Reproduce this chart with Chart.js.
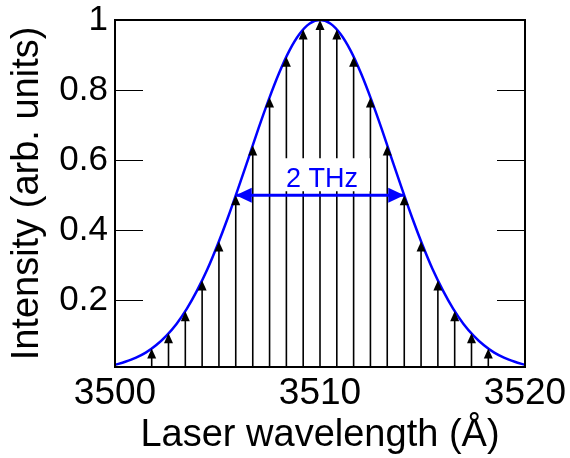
<!DOCTYPE html>
<html>
<head>
<meta charset="utf-8">
<script src="https://cdn.jsdelivr.net/npm/chart.js@4.4.0/dist/chart.umd.min.js"></script>
<style>
  html, body { margin: 0; padding: 0; background: #fff; }
  #wrap { width: 570px; height: 458px; }
</style>
</head>
<body>
<div id="wrap"><canvas id="combChart"></canvas></div>
<script>
// envelope (blue curve), wavelength in Angstrom
var curveX = [3500, 3500.5, 3501, 3501.5, 3502, 3502.5, 3503, 3503.5, 3504, 3504.5,
              3505, 3505.5, 3506, 3506.5, 3507, 3507.5, 3508, 3508.5, 3509, 3509.5,
              3510, 3510.5, 3511, 3511.5, 3512, 3512.5, 3513, 3513.5, 3514, 3514.5,
              3515, 3515.5, 3516, 3516.5, 3517, 3517.5, 3518, 3518.5, 3519, 3519.5, 3520];
var curveY = [0.016, 0.025, 0.036, 0.051, 0.072, 0.099, 0.133, 0.176, 0.228, 0.288,
              0.358, 0.435, 0.518, 0.604, 0.691, 0.773, 0.848, 0.912, 0.960, 0.990,
              1.000, 0.990, 0.960, 0.912, 0.848, 0.773, 0.691, 0.604, 0.518, 0.435,
              0.358, 0.288, 0.228, 0.176, 0.133, 0.099, 0.072, 0.051, 0.036, 0.025, 0.016];

// comb lines (black arrows)
var combX = [3501.79, 3502.61, 3503.43, 3504.25, 3505.07, 3505.89, 3506.72, 3507.54, 3508.36, 3509.18,
             3510.00, 3510.82, 3511.64, 3512.46, 3513.28, 3514.11, 3514.93, 3515.75, 3516.57, 3517.39, 3518.21];
var combY = [0.063, 0.106, 0.169, 0.257, 0.368, 0.500, 0.642, 0.779, 0.895, 0.973,
             1.000, 0.973, 0.895, 0.779, 0.642, 0.500, 0.368, 0.257, 0.169, 0.106, 0.063];

// FWHM marker
var fwhmX = [3505.89, 3514.11];
var fwhmY = [0.5, 0.5];
var fwhmLabel = '2 THz';

var xTicks = [3500, 3510, 3520];
var yTicks = [0.2, 0.4, 0.6, 0.8, 1];

function pairs(xs, ys) {
    return xs.map(function (x, i) { return { x: x, y: ys[i] }; });
}

var FONT = "'Liberation Sans', Arial, Helvetica, sans-serif";
var BLUE = '#0000ff';

var decor = {
    id: 'decor',
    afterDatasetDraw: function (chart, args) {
        if (args.index !== 1) return;
        var ctx = chart.ctx, area = chart.chartArea;
        ctx.save();
        ctx.strokeStyle = '#000';
        ctx.fillStyle = '#000';
        ctx.lineWidth = 1.6;
        args.meta.data.forEach(function (pt) {
            ctx.beginPath();
            ctx.moveTo(pt.x, area.bottom);
            ctx.lineTo(pt.x, pt.y + 6);
            ctx.stroke();
            ctx.beginPath();
            ctx.moveTo(pt.x, pt.y);
            ctx.lineTo(pt.x - 4.5, pt.y + 10);
            ctx.lineTo(pt.x + 4.5, pt.y + 10);
            ctx.closePath();
            ctx.fill();
        });
        ctx.restore();
    },
    afterDatasetsDraw: function (chart) {
        var ctx = chart.ctx, area = chart.chartArea;
        var ys = chart.scales.y;
        ctx.save();

        // FWHM arrow heads
        var m = chart.getDatasetMeta(2).data;
        var a = m[0], b = m[1];
        ctx.fillStyle = BLUE;
        ctx.beginPath();
        ctx.moveTo(a.x, a.y);
        ctx.lineTo(a.x + 16, a.y - 7.5);
        ctx.lineTo(a.x + 16, a.y + 7.5);
        ctx.closePath();
        ctx.fill();
        ctx.beginPath();
        ctx.moveTo(b.x, b.y);
        ctx.lineTo(b.x - 16, b.y - 7.5);
        ctx.lineTo(b.x - 16, b.y + 7.5);
        ctx.closePath();
        ctx.fill();

        // label on white box
        var cx = (a.x + b.x) / 2 + 2;
        ctx.fillStyle = '#fff';
        ctx.fillRect(cx - 48, a.y - 37, 96, 33);
        ctx.fillStyle = BLUE;
        ctx.font = '27px ' + FONT;
        ctx.textAlign = 'center';
        ctx.textBaseline = 'alphabetic';
        ctx.fillText(fwhmLabel, cx, a.y - 8);

        // frame
        ctx.strokeStyle = '#000';
        ctx.lineWidth = 2;
        ctx.strokeRect(area.left, area.top, area.right - area.left, area.bottom - area.top);

        // inward y ticks on both sides
        ctx.lineWidth = 1.2;
        yTicks.forEach(function (v) {
            var py = Math.round(ys.getPixelForValue(v)) + 0.5;
            ctx.beginPath();
            ctx.moveTo(area.left, py);
            ctx.lineTo(area.left + 28, py);
            ctx.moveTo(area.right, py);
            ctx.lineTo(area.right - 28, py);
            ctx.stroke();
        });
        ctx.restore();
    }
};

new Chart(document.getElementById('combChart').getContext('2d'), {
    type: 'scatter',
    data: {
        datasets: [{
            label: 'envelope',
            data: pairs(curveX, curveY),
            showLine: true,
            borderColor: BLUE,
            borderWidth: 2.5,
            pointRadius: 0,
            cubicInterpolationMode: 'monotone',
            order: 3
        }, {
            label: 'comb',
            data: pairs(combX, combY),
            showLine: false,
            pointRadius: 0,
            order: 2
        }, {
            label: 'fwhm',
            data: pairs(fwhmX, fwhmY),
            showLine: true,
            borderColor: BLUE,
            borderWidth: 3,
            pointRadius: 0,
            order: 1
        }]
    },
    options: {
        responsive: true,
        maintainAspectRatio: false,
        animation: false,
        layout: { padding: { top: 20, right: 45, left: 0, bottom: 0 } },
        plugins: {
            legend: { display: false },
            tooltip: { enabled: false }
        },
        scales: {
            x: {
                type: 'linear',
                min: 3500,
                max: 3520,
                grid: { display: false, drawTicks: false },
                border: { display: false },
                afterBuildTicks: function (s) { s.ticks = xTicks.map(function (v) { return { value: v }; }); },
                afterFit: function (s) {
                    s.height = 91;
                    s.paddingLeft = 0;
                    s.paddingRight = 0;
                },
                ticks: {
                    color: '#000',
                    padding: 5,
                    maxRotation: 0,
                    font: { family: FONT, size: 37 },
                    callback: function (v) { return String(v); }
                },
                title: {
                    display: true,
                    text: 'Laser wavelength (Å)',
                    color: '#000',
                    padding: { top: 0, bottom: 0 },
                    font: { family: FONT, size: 38, lineHeight: 1.2 }
                }
            },
            y: {
                min: 0.01,
                max: 1,
                grid: { display: false, drawTicks: false },
                border: { display: false },
                afterBuildTicks: function (s) { s.ticks = yTicks.map(function (v) { return { value: v }; }); },
                afterFit: function (s) {
                    s.width = 115;
                    s.paddingTop = 0;
                    s.paddingBottom = 0;
                },
                ticks: {
                    color: '#000',
                    padding: 7,
                    font: { family: FONT, size: 35 },
                    callback: function (v) { return String(v); }
                },
                title: {
                    display: true,
                    text: 'Intensity (arb. units)',
                    color: '#000',
                    padding: { top: 5, bottom: 0 },
                    font: { family: FONT, size: 38, lineHeight: 1.2 }
                }
            }
        }
    },
    plugins: [decor]
});
</script>
</body>
</html>
